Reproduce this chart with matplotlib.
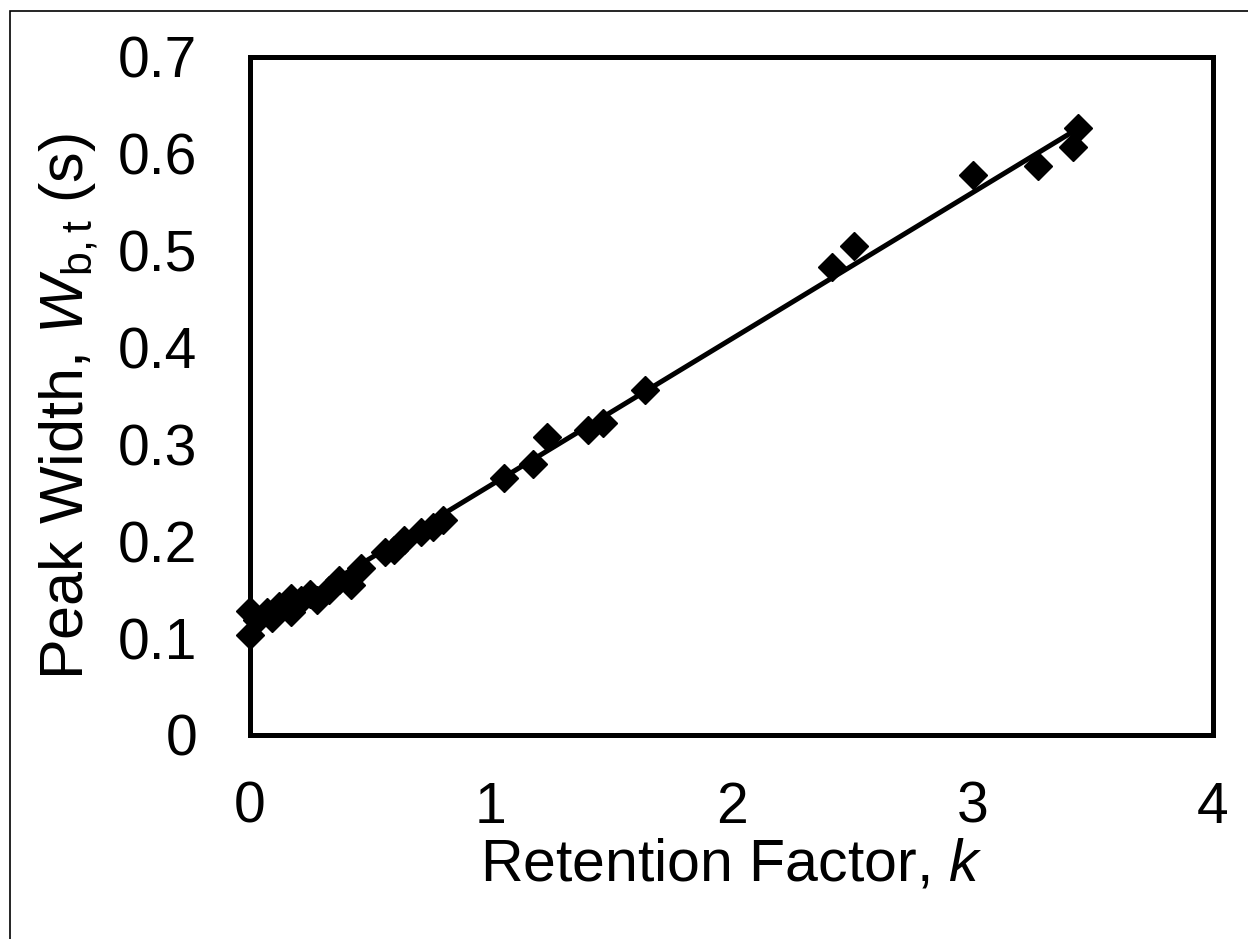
import numpy as np
import matplotlib.pyplot as plt
from matplotlib.patches import Rectangle

plt.rcParams['font.family'] = ['Liberation Sans', 'DejaVu Sans']
plt.rcParams['mathtext.fontset'] = 'custom'
plt.rcParams['mathtext.rm'] = 'Liberation Sans'
plt.rcParams['mathtext.it'] = 'Liberation Sans:italic'

# retention factor k and base peak width (s)
k = [0.0, 0.0, 0.03, 0.07, 0.09, 0.12, 0.17, 0.17, 0.21, 0.25, 0.28, 0.33, 0.37,
     0.42, 0.46, 0.56, 0.60, 0.64, 0.71, 0.76, 0.80,
     1.055, 1.175, 1.234, 1.404, 1.466, 1.641,
     2.417, 2.509, 3.003, 3.273, 3.418, 3.439]
wb = [0.103, 0.128, 0.119, 0.127, 0.121, 0.133, 0.127, 0.141, 0.139, 0.146, 0.139, 0.150, 0.160,
      0.155, 0.172, 0.189, 0.191, 0.201, 0.210, 0.215, 0.222,
      0.265, 0.280, 0.308, 0.315, 0.322, 0.356,
      0.483, 0.505, 0.578, 0.587, 0.607, 0.627]

k = np.array(k)
wb = np.array(wb)

# linear trend line over the data range
slope, intercept = np.polyfit(k, wb, 1)
kfit = np.array([k.min(), k.max()])

fig = plt.figure(figsize=(12.48, 9.39), dpi=100)
ax = fig.add_axes([0.2003, 0.2173, 0.7717, 0.722])

ax.plot(kfit, slope * kfit + intercept, color='black', lw=3.6, zorder=2)
ax.plot(k, wb, 'D', color='black', ms=14, mec='black', zorder=3, clip_on=False)

ax.set_xlim(0, 4)
ax.set_ylim(0, 0.7)
ax.set_xticks([0, 1, 2, 3, 4])
ax.set_yticks(np.arange(0, 0.71, 0.1))
ax.set_yticklabels(['0', '0.1', '0.2', '0.3', '0.4', '0.5', '0.6', '0.7'])
ax.tick_params(length=0, labelsize=41)
ax.tick_params(axis='x', pad=33)
ax.tick_params(axis='y', pad=38)
for s in ax.spines.values():
    s.set_linewidth(3.6)

ax.set_xlabel(r'Retention Factor, $\mathit{k}$', fontsize=42.5, labelpad=2)
ax.set_ylabel(r'Peak Width, $\mathit{W}_{\mathrm{b,t}}$ (s)', fontsize=44)
ax.yaxis.set_label_coords(-0.155, 0.484)

# outer chart border
fig.add_artist(Rectangle((10 / 1248, -0.2), 1.2, 1.2 - 11 / 939,
                         transform=fig.transFigure, fill=False,
                         edgecolor='black', lw=1.2))

fig.savefig('out.png', dpi=100)
